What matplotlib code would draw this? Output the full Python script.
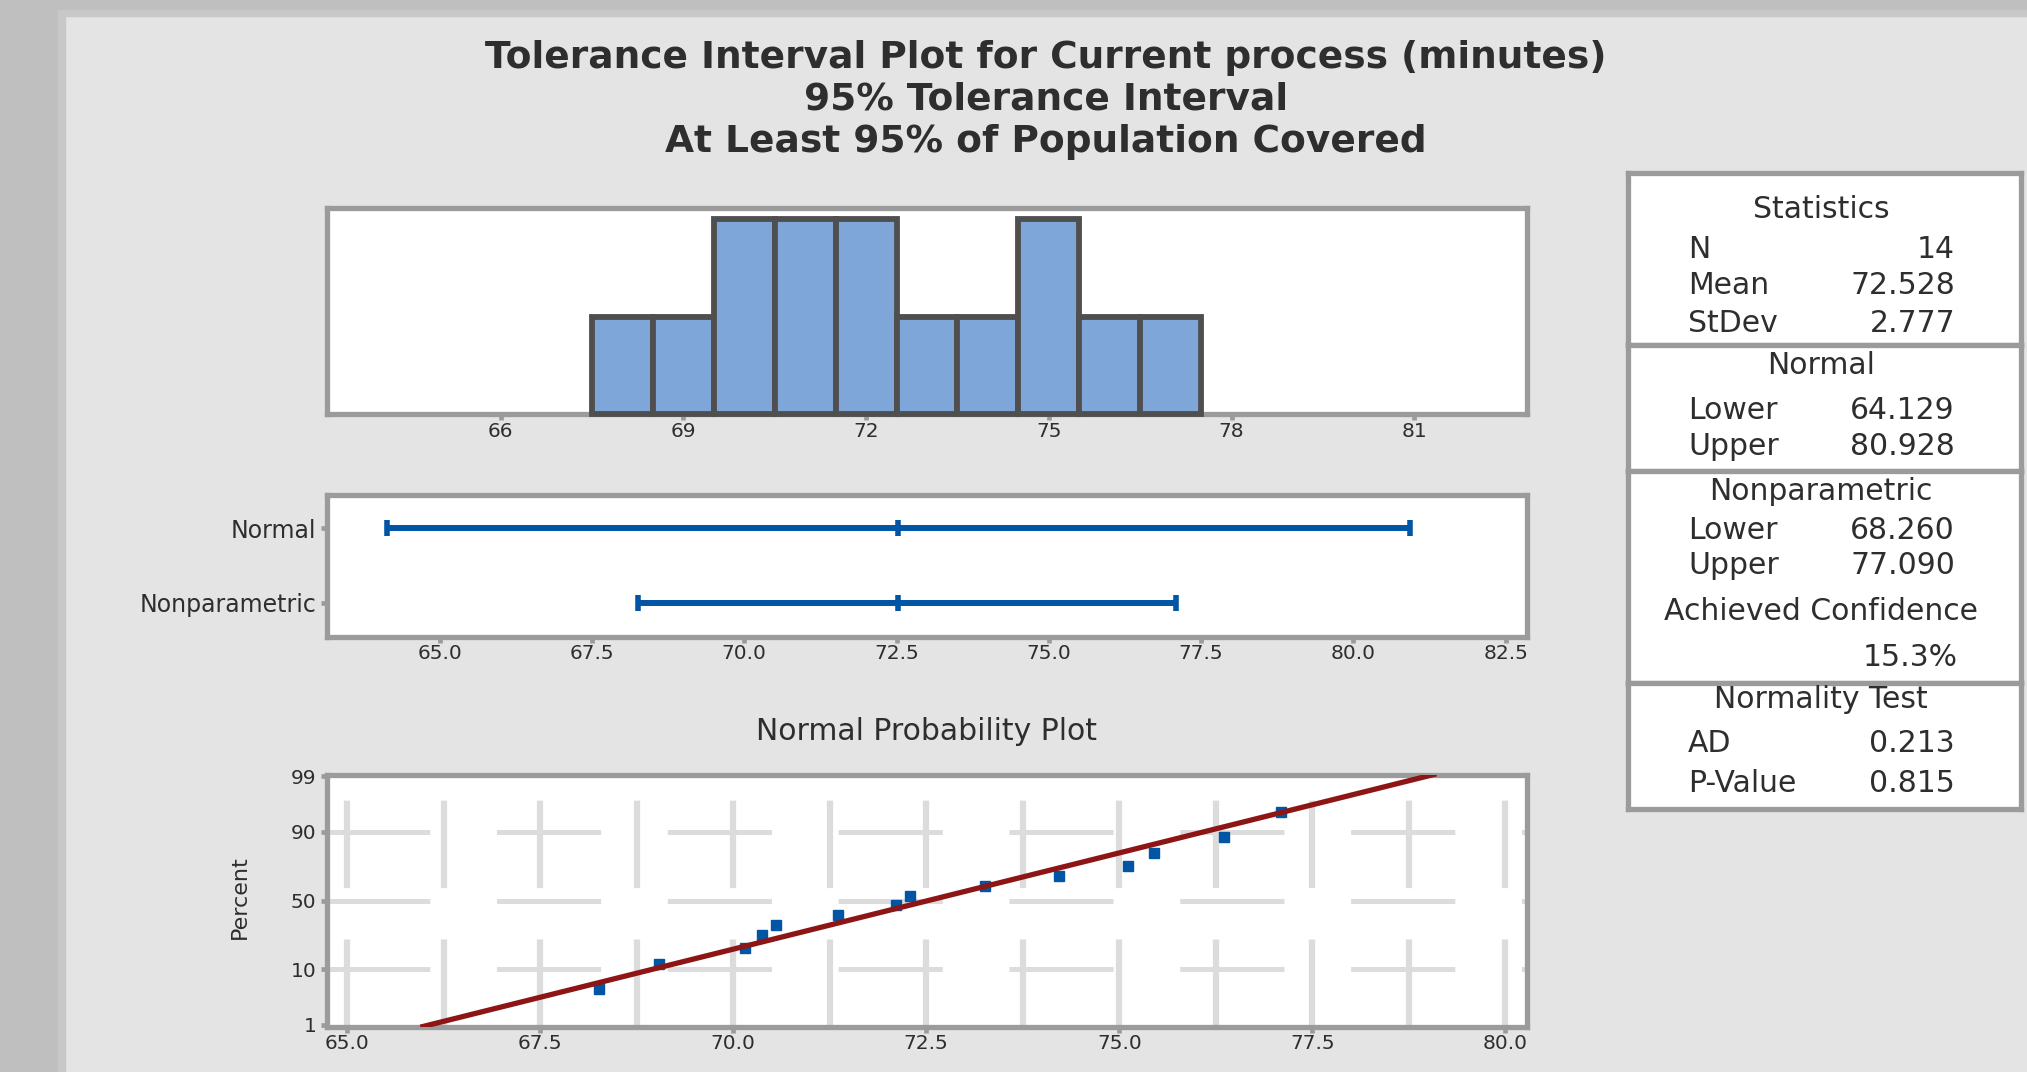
#!/usr/bin/env python3
""" Tolerance interval plot (Minitab style) for the current process times.
"""

from statistics import NormalDist

import matplotlib
matplotlib.use("Agg")
import matplotlib.pyplot as plt
from matplotlib.patches import Rectangle
import numpy as np

# observed process times (minutes), sorted
process_minutes = [68.26, 69.04, 70.15, 70.37, 70.56, 71.36, 72.11,
                   72.29, 73.26, 74.22, 75.11, 75.45, 76.35, 77.09]
hist_edges = [67.5, 68.5, 69.5, 70.5, 71.5, 72.5, 73.5, 74.5, 75.5, 76.5, 77.5]

n_obs = 14
mean_val = 72.528
sd_val = 2.777
normal_bounds = [64.129, 80.928]
nonpar_bounds = [68.260, 77.090]
achieved_conf = 15.3
ad_stat = 0.213
p_value = 0.815

interval_names = ["Normal", "Nonparametric"]
hist_ticks = [66, 69, 72, 75, 78, 81]
interval_ticks = [65.0, 67.5, 70.0, 72.5, 75.0, 77.5, 80.0, 82.5]
prob_ticks = [65.0, 67.5, 70.0, 72.5, 75.0, 77.5, 80.0]
prob_percents = [1, 10, 50, 90, 99]

plt.rcParams["lines.scale_dashes"] = False

W, H = 2027, 1072
FRAME = "#9b9b9b"
TXT = "#2e2e2e"
BLUE = "#0055a5"


def fx(px):
    return px / W


def fy(py):
    return 1 - py / H


def panel(x0, y0, x1, y1):
    ax = fig.add_axes([fx(x0), fy(y1), (x1 - x0) / W, (y1 - y0) / H])
    ax.set_facecolor("white")
    for s in ax.spines.values():
        s.set_color(FRAME)
        s.set_linewidth(3.8)
    ax.tick_params(length=4.5, width=3.4, color=FRAME, labelcolor=TXT,
                   labelsize=14.5, pad=1)
    return ax


fig = plt.figure(figsize=(W / 100, H / 100), dpi=100, facecolor="#e4e4e4")

# window border strips
fig.patches.append(Rectangle((0, 0), fx(58), 1, transform=fig.transFigure,
                             color="#bfbfbf", zorder=0))
fig.patches.append(Rectangle((0, fy(10)), 1, 10 / H, transform=fig.transFigure,
                             color="#bfbfbf", zorder=0))
fig.patches.append(Rectangle((fx(58), 0), 7 / W, fy(10), transform=fig.transFigure,
                             color="#c8c8c8", zorder=0))
fig.patches.append(Rectangle((fx(58), fy(16)), 1, 6 / H, transform=fig.transFigure,
                             color="#c8c8c8", zorder=0))

title_lines = ["Tolerance Interval Plot for Current process (minutes)",
               "95% Tolerance Interval",
               "At Least 95% of Population Covered"]
for line, ypx in zip(title_lines, [58, 100, 142]):
    fig.text(fx(1046), fy(ypx), line, ha="center", va="center",
             fontsize=27, fontweight="bold", color=TXT)

# histogram
ax1 = panel(327, 207.5, 1527, 414)
ax1.hist(process_minutes, bins=hist_edges, color="#7ea6d8", edgecolor="#4f4f4f",
         linewidth=4.2, zorder=3, clip_on=False)
ax1.set_xlim(63.15, 82.85)
ax1.set_ylim(0, 2.12)
ax1.set_yticks([])
ax1.set_xticks(hist_ticks)
ax1.set_xticklabels([str(t) for t in hist_ticks])

# interval plot
ax2 = panel(327, 494.5, 1527, 636.5)
bounds = [normal_bounds, nonpar_bounds]
for i, (lo, hi) in enumerate(bounds):
    ax2.plot([lo, hi], [i, i], color=BLUE, lw=4.3, solid_capstyle="butt")
    ax2.plot([lo, mean_val, hi], [i, i, i], ls="none", marker="|",
             markersize=11, markeredgewidth=4, color=BLUE)
ax2.set_xlim(63.15, 82.85)
ax2.set_ylim(1.45, -0.45)
ax2.set_yticks(range(len(interval_names)))
ax2.set_yticklabels(interval_names, fontsize=17)
ax2.tick_params(axis="y", pad=3)
ax2.set_xticks(interval_ticks)
ax2.set_xticklabels([f"{t:.1f}" for t in interval_ticks])

# normal probability plot
nd = NormalDist()
ax3 = panel(327, 774.5, 1527, 1026.5)
zlim = 2.357
for k in range(13):
    ax3.axvline(65 + 1.25 * k, color="#dcdcdc", lw=4.5, ls=(0, (63, 37)), zorder=1)
for p in [10, 50, 90]:
    ax3.axhline(nd.inv_cdf(p / 100), color="#dcdcdc", lw=3.6,
                ls=(1, (75, 48)), zorder=1)
zs = [nd.inv_cdf((i + 1 - 0.3) / (n_obs + 0.4)) for i in range(n_obs)]
ax3.plot(process_minutes, zs, ls="none", marker="s", markersize=7,
         color=BLUE, zorder=3)
zline = np.array([-zlim, zlim])
ax3.plot(mean_val + zline * sd_val, zline, color="#8e1515", lw=3.8, zorder=4)
ax3.set_xlim(64.74, 80.28)
ax3.set_ylim(-zlim, zlim)
ax3.set_xticks(prob_ticks)
ax3.set_xticklabels([f"{t:.1f}" for t in prob_ticks])
ax3.set_yticks([nd.inv_cdf(p / 100) for p in prob_percents])
ax3.set_yticklabels([str(p) for p in prob_percents])
ax3.tick_params(axis="y", pad=3)
fig.text(fx(927), fy(732), "Normal Probability Plot", ha="center", va="center",
         fontsize=21.5, color=TXT)
fig.text(fx(240), fy(897), "Percent", ha="center", va="center", rotation=90,
         fontsize=16, color=TXT)

# statistics table
for y0, y1 in [(173, 345), (345, 471), (471, 683), (683, 809)]:
    a = panel(1627.5, y0, 2020.5, y1)
    a.set_xticks([])
    a.set_yticks([])

rows = [
    ("Statistics", None, 209),
    ("N", f"{n_obs}", 250),
    ("Mean", f"{mean_val:.3f}", 285),
    ("StDev", f"{sd_val:.3f}", 323),
    ("Normal", None, 365),
    ("Lower", f"{normal_bounds[0]:.3f}", 411),
    ("Upper", f"{normal_bounds[1]:.3f}", 446),
    ("Nonparametric", None, 492),
    ("Lower", f"{nonpar_bounds[0]:.3f}", 531),
    ("Upper", f"{nonpar_bounds[1]:.3f}", 566),
    ("Achieved Confidence", None, 611),
    ("Normality Test", None, 699),
    ("AD", f"{ad_stat:.3f}", 743),
    ("P-Value", f"{p_value:.3f}", 783),
]
for label, value, ypx in rows:
    if value is None:
        fig.text(fx(1821), fy(ypx), label, ha="center", va="center",
                 fontsize=21.5, color=TXT)
    else:
        fig.text(fx(1688), fy(ypx), label, ha="left", va="center",
                 fontsize=21.5, color=TXT)
        fig.text(fx(1955), fy(ypx), value, ha="right", va="center",
                 fontsize=21.5, color=TXT)
fig.text(fx(1958), fy(657), f"{achieved_conf:.1f}%", ha="right", va="center",
         fontsize=21.5, color=TXT)

fig.savefig("out.png", dpi=100, facecolor=fig.get_facecolor())
